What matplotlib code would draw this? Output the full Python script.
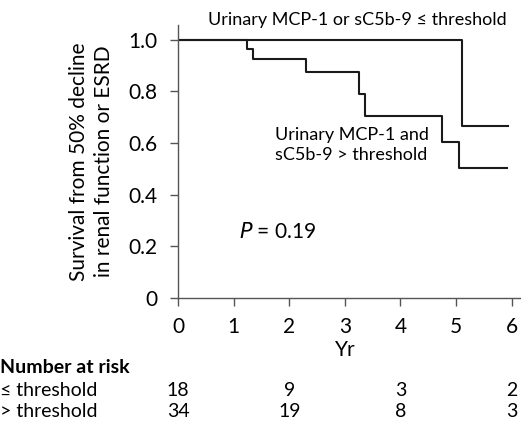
import matplotlib
matplotlib.use("Agg")
import matplotlib.pyplot as plt
from matplotlib.transforms import blended_transform_factory

plt.rcParams["font.family"] = ["Lato", "DejaVu Sans"]

# Kaplan-Meier step data (time in years, survival)
low_times = [0, 5.10, 5.93]
low_surv = [1.0, 0.667, 0.667]
high_times = [0, 1.24, 1.35, 2.30, 3.25, 3.37, 4.74, 5.05, 5.92]
high_surv = [1.0, 0.963, 0.923, 0.874, 0.79, 0.704, 0.603, 0.503, 0.503]

# number at risk
risk_times = [0, 2, 4, 6]
risk_low = [18, 9, 3, 2]
risk_high = [34, 19, 8, 3]
risk_labels = ["\u2264 threshold", "> threshold"]

fig = plt.figure(figsize=(5.21, 4.26), dpi=100)
ax = fig.add_axes([0.342, 0.301, 0.656, 0.640])

ax.step(low_times, low_surv, where="post", color="#1a1a1a", lw=1.5)
ax.step(high_times, high_surv, where="post", color="#1a1a1a", lw=1.5)

ax.set_xlim(0, 6.15)
ax.set_ylim(0, 1.056)
ax.set_xticks(range(7))
ax.set_yticks([0, 0.2, 0.4, 0.6, 0.8, 1.0])
ax.set_yticklabels(["0", "0.2", "0.4", "0.6", "0.8", "1.0"])
for s in ["top", "right"]:
    ax.spines[s].set_visible(False)
for s in ["left", "bottom"]:
    ax.spines[s].set_color("#555555")
    ax.spines[s].set_linewidth(1.0)
ax.tick_params(direction="out", length=6, width=1, color="#555555",
               labelsize=15)
ax.tick_params(axis="x", pad=8)
ax.tick_params(axis="y", pad=9)

ax.set_xlabel("Yr", fontsize=15, va="center")
ax.xaxis.set_label_coords(0.488, -0.192)
ax.set_ylabel("Survival from 50% decline\nin renal function or ESRD",
              fontsize=15, linespacing=1.3, va="center")
ax.yaxis.set_label_coords(-0.254, 0.5)

ax.text(3.22, 1.076, "Urinary MCP-1 or sC5b-9 \u2264 threshold",
        fontsize=13, ha="center", va="center", clip_on=False)
ax.text(3.12, 0.592, "Urinary MCP-1 and\nsC5b-9 > threshold",
        fontsize=13, ha="center", va="center", linespacing=1.25)
ax.text(1.1, 0.254, "$P$ = 0.19", fontsize=15, ha="left", va="center")

# number-at-risk table
trans = blended_transform_factory(ax.transData, fig.transFigure)
fig.text(0.0, 0.137, "Number at risk", fontsize=14, fontweight="bold",
         ha="left", va="center")
for row, (lab, vals) in enumerate(zip(risk_labels, [risk_low, risk_high])):
    y = 0.0833 - row * 0.050
    fig.text(0.0, y, lab, fontsize=14, ha="left", va="center")
    for t, v in zip(risk_times, vals):
        ax.text(t, y, str(v), transform=trans, fontsize=14,
                ha="center", va="center", clip_on=False)

fig.savefig("out.png", dpi=100)
